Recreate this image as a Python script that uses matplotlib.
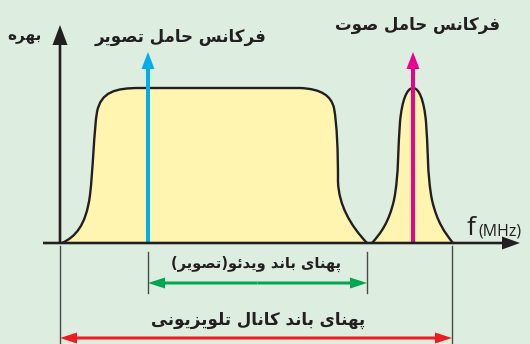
"""TV channel spectrum sketch: picture carrier, sound carrier and the two bandwidths."""

import matplotlib
matplotlib.use("Agg")
import matplotlib.pyplot as plt
from matplotlib.path import Path
from matplotlib.patches import PathPatch, FancyArrow

# --- data (in pixel-like units, y grows downward) ---
BASELINE = 243
# video band outline: bezier control points (start, then triples)
video_x = [62, 75, 86, 90, 93, 94, 97, 101, 115, 140, 220, 280, 300, 322, 331, 334, 337, 338, 338, 339, 350, 367]
video_y = [243, 237, 226, 195, 170, 130, 112, 92, 88, 88, 88, 88, 88, 89, 96, 108, 125, 150, 182, 205, 225, 243]
# sound peak outline
sound_x = [372, 381, 389, 394, 399, 398, 400, 402, 407, 413, 419, 424, 426, 428, 427, 432, 437, 445, 453]
sound_y = [243, 233, 222, 200, 175, 145, 122, 100, 88, 88, 88, 100, 122, 145, 175, 200, 222, 233, 243]
carrier_x = [148, 413]
carrier_colors = ["#00aeef", "#ec008c"]
carrier_tip = 52
channel_edges = [60, 452]
video_edges = [148, 367]
video_arrow_y = 283
channel_arrow_y = 338

labels = {
    "gain": "بهره",
    "picture": "فرکانس حامل تصویر",
    "sound": "فرکانس حامل صوت",
    "video_bw": "پهنای باند ویدئو(تصویر)",
    "channel_bw": "پهنای باند کانال تلویزیونی",
}

# --- minimal Persian shaping (matplotlib has no complex text layout) ---
FORMS = {  # isolated, final, initial, medial
    "ا": ("\uFE8D", "\uFE8E", None, None),
    "ب": ("\uFE8F", "\uFE90", "\uFE91", "\uFE92"),
    "پ": ("\uFB56", "\uFB57", "\uFB58", "\uFB59"),
    "ت": ("\uFE95", "\uFE96", "\uFE97", "\uFE98"),
    "ح": ("\uFEA1", "\uFEA2", "\uFEA3", "\uFEA4"),
    "د": ("\uFEA9", "\uFEAA", None, None),
    "ر": ("\uFEAD", "\uFEAE", None, None),
    "ز": ("\uFEAF", "\uFEB0", None, None),
    "س": ("\uFEB1", "\uFEB2", "\uFEB3", "\uFEB4"),
    "ص": ("\uFEB9", "\uFEBA", "\uFEBB", "\uFEBC"),
    "ف": ("\uFED1", "\uFED2", "\uFED3", "\uFED4"),
    "ک": ("\uFB8E", "\uFB8F", "\uFB90", "\uFB91"),
    "ل": ("\uFEDD", "\uFEDE", "\uFEDF", "\uFEE0"),
    "م": ("\uFEE1", "\uFEE2", "\uFEE3", "\uFEE4"),
    "ن": ("\uFEE5", "\uFEE6", "\uFEE7", "\uFEE8"),
    "ه": ("\uFEE9", "\uFEEA", "\uFEEB", "\uFEEC"),
    "و": ("\uFEED", "\uFEEE", None, None),
    "ی": ("\uFBFC", "\uFBFD", "\uFBFE", "\uFBFF"),
    "ئ": ("\uFE89", "\uFE8A", "\uFE8B", "\uFE8C"),
}


def shape(text):
    out = []
    for i, ch in enumerate(text):
        if ch not in FORMS:
            out.append(ch)
            continue
        prev = text[i - 1] if i > 0 else ""
        nxt = text[i + 1] if i + 1 < len(text) else ""
        join_prev = prev in FORMS and FORMS[prev][2] is not None
        join_next = FORMS[ch][2] is not None and nxt in FORMS
        iso, fin, ini, med = FORMS[ch]
        if join_prev and join_next:
            out.append(med)
        elif join_prev:
            out.append(fin)
        elif join_next:
            out.append(ini)
        else:
            out.append(iso)
    vis = "".join(reversed(out))
    return vis.translate(str.maketrans("()", ")("))


def bezier(xs, ys):
    verts = list(zip(xs, ys))
    codes = [Path.MOVETO] + [Path.CURVE4] * (len(verts) - 1)
    verts.append((xs[0], ys[0]))
    codes.append(Path.CLOSEPOLY)
    return Path(verts, codes)


BG = "#ddeee1"
FILL = "#fff5b1"
INK = "#231f20"
TICK = "#4a4a4a"
GREEN = "#00a651"
RED = "#ed1c24"

fig = plt.figure(figsize=(5.30, 3.44), dpi=100, facecolor=BG)
ax = fig.add_axes([0, 0, 1, 1])
ax.set_facecolor(BG)
ax.set_xlim(0, 530)
ax.set_ylim(344, 0)
ax.axis("off")

for xs, ys in [(video_x, video_y), (sound_x, sound_y)]:
    ax.add_patch(PathPatch(bezier(xs, ys), facecolor=FILL, edgecolor="none", zorder=1))
    open_path = Path(list(zip(xs, ys)), [Path.MOVETO] + [Path.CURVE4] * (len(xs) - 1))
    ax.add_patch(PathPatch(open_path, facecolor="none", edgecolor=INK, lw=1.7,
                           capstyle="round", joinstyle="round", zorder=3))

# carriers
for cx, col in zip(carrier_x, carrier_colors):
    ax.add_patch(FancyArrow(cx, BASELINE, 0, carrier_tip - BASELINE, width=4, head_width=13,
                            head_length=17, length_includes_head=True, color=col, lw=0, zorder=4))

# axes arrows
ax.add_patch(FancyArrow(43, BASELINE, 520 - 43, 0, width=2.6, head_width=13, head_length=18,
                        length_includes_head=True, color=INK, lw=0, zorder=5))
ax.add_patch(FancyArrow(channel_edges[0], BASELINE, 0, 25 - BASELINE, width=2.6, head_width=15,
                        head_length=20, length_includes_head=True, color=INK, lw=0, zorder=5))

# dimension ticks
for x in channel_edges:
    ax.plot([x, x], [BASELINE + 3, 344], color=TICK, lw=1.0, zorder=2)
for x in video_edges:
    ax.plot([x, x], [252, 293], color=TICK, lw=1.0, zorder=2)


def dim_arrow(x0, x1, y, color):
    mid = (x0 + x1) / 2
    for end in (x0, x1):
        ax.add_patch(FancyArrow(mid, y, end - mid, 0, width=3, head_width=11, head_length=17,
                                length_includes_head=True, color=color, lw=0, zorder=4))


dim_arrow(video_edges[0], video_edges[1], video_arrow_y, GREEN)
dim_arrow(channel_edges[0], channel_edges[1], channel_arrow_y, RED)

# text
fa = dict(family="DejaVu Sans", fontweight="bold", color=INK, va="center")
ax.text(41, 36, shape(labels["gain"]), ha="right", fontsize=11, **fa)
ax.text(181, 37, shape(labels["picture"]), ha="center", fontsize=12, **fa)
ax.text(418, 25, shape(labels["sound"]), ha="center", fontsize=12, **fa)
ax.text(256, 264, shape(labels["video_bw"]), ha="center", fontsize=10.5, **fa)
ax.text(258, 320, shape(labels["channel_bw"]), ha="center", fontsize=12, **fa)
ax.text(467, 235, "f", ha="left", va="baseline", fontsize=19, family="Open Sans", color=INK)
ax.text(478, 235, "(MHz)", ha="left", va="baseline", fontsize=11.5, family="Open Sans", color=INK)

fig.savefig("out.png", dpi=100, facecolor=BG)
